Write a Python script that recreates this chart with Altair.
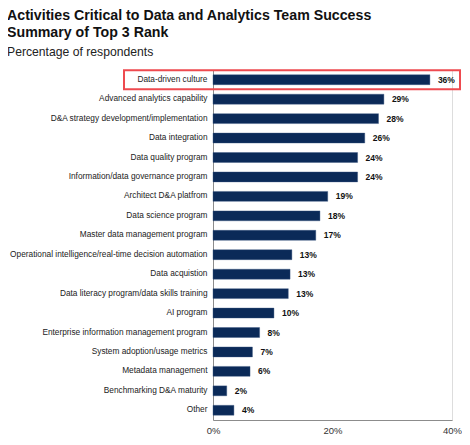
import altair as alt
import pandas as pd

categories = [
    "Data-driven culture",
    "Advanced analytics capability",
    "D&A strategy development/implementation",
    "Data integration",
    "Data quality program",
    "Information/data governance program",
    "Architect D&A platfrom",
    "Data science program",
    "Master data management program",
    "Operational intelligence/real-time decision automation",
    "Data acquistion",
    "Data literacy program/data skills training",
    "AI program",
    "Enterprise information management program",
    "System adoption/usage metrics",
    "Metadata management",
    "Benchmarking D&A maturity",
    "Other",
]
values = [36.3, 28.6, 27.7, 25.4, 24.2, 24.2, 19.2, 17.9, 17.2, 13.2, 12.9, 12.6,
          10.2, 7.8, 6.6, 6.2, 2.3, 3.5]
labels = ["36%", "29%", "28%", "26%", "24%", "24%", "19%", "18%", "17%", "13%",
          "13%", "13%", "10%", "8%", "7%", "6%", "2%", "4%"]
highlight = ["Data-driven culture"]

df = pd.DataFrame({"cat": categories, "val": values, "lab": labels})
hl = pd.DataFrame({"cat": highlight})

yenc = alt.Y("cat:N", sort=categories, title=None,
             scale=alt.Scale(paddingInner=0.49, paddingOuter=0.245),
             axis=alt.Axis(labelFont="Liberation Sans", labelFontSize=8.3,
                           labelColor="#222222", labelLimit=300, ticks=False,
                           labelPadding=6, domainColor="#8c8c8c", domainWidth=1))

bars = alt.Chart(df).mark_bar(color="#0b2a58", stroke="#3a5580", strokeWidth=0.4).encode(
    y=yenc,
    x=alt.X("val:Q", title=None,
            scale=alt.Scale(domain=[0, 40], nice=False),
            axis=alt.Axis(values=[0, 20, 40], format=".0f", labelExpr="datum.value + '%'",
                          labelFont="Liberation Sans", labelFontSize=9.5,
                          labelColor="#333333", ticks=False, grid=False,
                          labelPadding=5, domainColor="#8c8c8c", domainWidth=1,
                          labelFlush=False)),
)

text = alt.Chart(df).mark_text(align="left", baseline="middle", dx=8,
                               font="Liberation Sans", fontSize=8.5,
                               fontWeight="bold", color="#111111").encode(
    y=alt.Y("cat:N", sort=categories),
    x="val:Q",
    text="lab:N",
)

box = alt.Chart(hl).mark_bar(filled=False, stroke="#ee4a4f", strokeWidth=2,
                             height=alt.RelativeBandSize(1.9)).encode(
    y=alt.Y("cat:N", sort=categories),
    x=alt.value(-89),
    x2=alt.value(247),
)

chart = alt.layer(bars, text, box).properties(
    width=239,
    height=350,
    autosize=alt.AutoSizeParams(type="none"),
    padding={"left": 205, "top": 62, "right": 10, "bottom": 17},
    title=alt.TitleParams(
        text=["Activities Critical to Data and Analytics Team Success",
              "Summary of Top 3 Rank"],
        subtitle="Percentage of respondents",
        anchor="start",
        frame="group",
        dx=-206,
        font="Liberation Sans",
        fontSize=14.2,
        fontWeight="bold",
        color="#111111",
        lineHeight=17,
        subtitleFont="Liberation Sans",
        subtitleFontSize=12.2,
        subtitleColor="#222222",
        subtitlePadding=6,
        offset=11,
    ),
).configure_view(stroke=None).configure(background="white")

chart.save("out.html", embed_options={"renderer": "svg", "actions": False})
